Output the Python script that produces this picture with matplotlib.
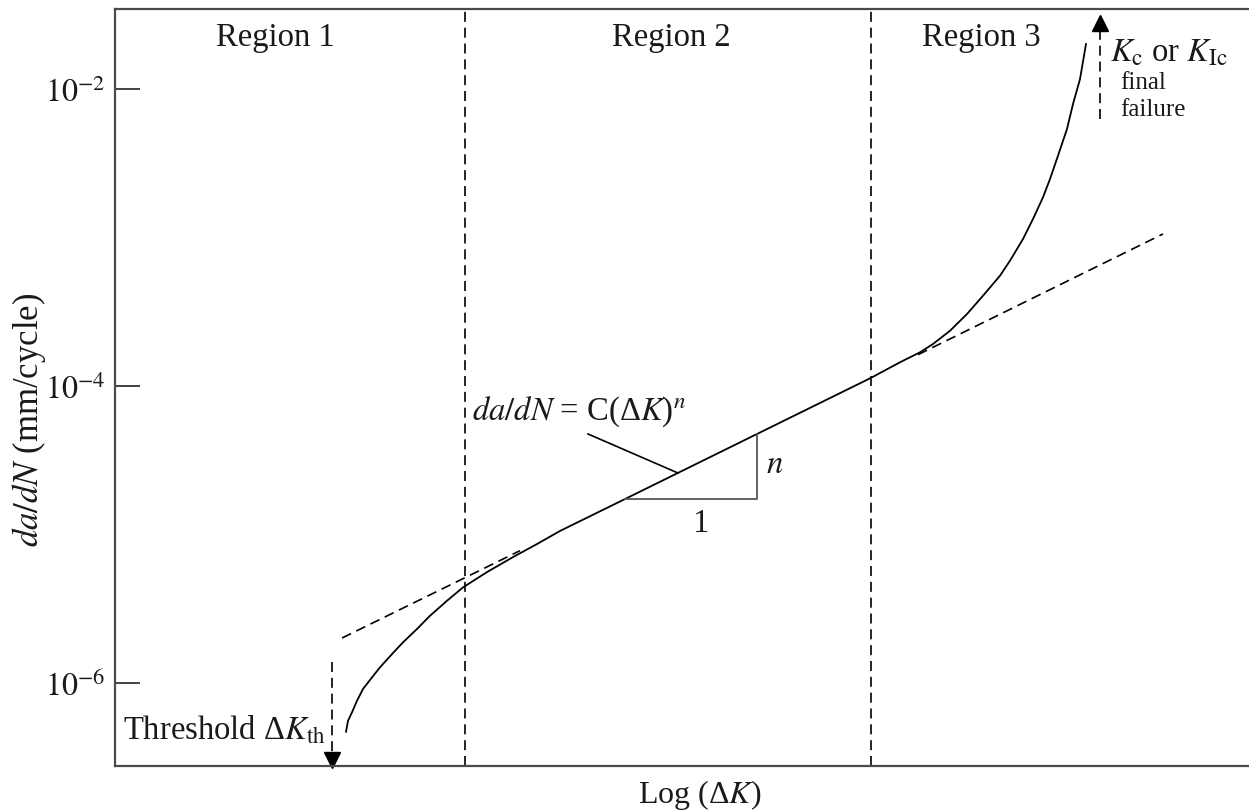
#!/usr/bin/env python3
"""Schematic fatigue crack growth curve: da/dN against log(dK), three regions."""

import matplotlib

matplotlib.use("Agg")
import matplotlib.pyplot as plt
import numpy as np

plt.rcParams["font.family"] = "serif"
plt.rcParams["font.serif"] = ["Liberation Serif", "DejaVu Serif"]
plt.rcParams["mathtext.fontset"] = "stix"

# x is log(dK) in arbitrary units, y is log10(da/dN)
CURVE_X = [2.31, 2.33, 2.37, 2.42, 2.48, 2.57, 2.65, 2.77, 2.88, 3.02, 3.15,
           3.32, 3.48, 3.72, 3.98, 4.22, 4.45, 5.10, 6.42, 7.56, 7.85, 8.05,
           8.18, 8.35, 8.52, 8.68, 8.85, 8.95, 9.08, 9.18, 9.28, 9.35, 9.43,
           9.52, 9.58, 9.65, 9.71]
CURVE_LOGY = [-6.330, -6.256, -6.199, -6.121, -6.042, -5.964, -5.896, -5.807,
              -5.728, -5.638, -5.549, -5.448, -5.358, -5.255, -5.154, -5.066,
              -4.978, -4.763, -4.325, -3.947, -3.842, -3.775, -3.719, -3.630,
              -3.517, -3.394, -3.259, -3.158, -3.012, -2.877, -2.731, -2.608,
              -2.451, -2.271, -2.103, -1.935, -1.699]

# Paris-law extensions (dashed)
LOWER_EXT_X = [2.27, 4.05]
LOWER_EXT_LOGY = [-5.699, -5.111]
UPPER_EXT_X = [8.03, 10.48]
UPPER_EXT_LOGY = [-3.791, -2.978]

REGION_BOUNDS = [3.50, 7.56]
REGION_LABELS = ["Region 1", "Region 2", "Region 3"]
REGION_LABEL_X = [1.60, 5.56, 8.66]

# slope triangle and leader line
TRI_X = [5.10, 6.42, 6.42]
TRI_LOGY = [-4.763, -4.763, -4.325]
LEADER_X = [4.73, 5.63]
LEADER_LOGY = [-4.325, -4.588]

# threshold and final failure arrows
THRESH_X = 2.17
THRESH_LOGY = [-5.861, -6.50]
FAIL_X = 9.85
FAIL_LOGY = [-2.204, -1.58]

YTICKS = [1e-2, 1e-4, 1e-6]
YTICK_LABELS = [r"$10^{-2}$", r"$10^{-4}$", r"$10^{-6}$"]

XLIM = (0.0, 11.34)
YLIM = (10 ** -6.561, 10 ** -1.463)

TXT = "#1a1a1a"
SPINE = "#4a4a4a"
DASH = (0, (6, 3.5))
FS = 23.5

fig = plt.figure(figsize=(12.49, 8.12), dpi=100)
ax = fig.add_axes([0.0921, 0.0554, 0.9079, 0.9323])

ax.set_yscale("log")
ax.set_xlim(*XLIM)
ax.set_ylim(*YLIM)

ax.plot(CURVE_X, 10 ** np.array(CURVE_LOGY), color="black", lw=1.3,
        solid_joinstyle="round")
ax.plot(LOWER_EXT_X, 10 ** np.array(LOWER_EXT_LOGY), color="black", lw=1.2, linestyle=DASH)
ax.plot(UPPER_EXT_X, 10 ** np.array(UPPER_EXT_LOGY), color="black", lw=1.2, linestyle=DASH)

for xb in REGION_BOUNDS:
    ax.axvline(xb, color="black", lw=1.2, linestyle=DASH)

label_y = 10 ** -1.65
for lx, text in zip(REGION_LABEL_X, REGION_LABELS):
    ax.text(lx, label_y, text, ha="center", va="center", fontsize=FS, color=TXT)

ax.plot(TRI_X, 10 ** np.array(TRI_LOGY), color="#555555", lw=1.3)
ax.plot(LEADER_X, 10 ** np.array(LEADER_LOGY), color="black", lw=1.2)
ax.text(3.57, 10 ** -4.224, r"$da/dN$ = C(Δ$K$)$^{n}$",
        ha="left", va="baseline", fontsize=FS, color=TXT)
ax.text(6.60, 10 ** -4.527, r"$n$", ha="center", va="center", fontsize=FS, color=TXT)
ax.text(5.85, 10 ** -4.925, "1", ha="center", va="center", fontsize=FS, color=TXT)

# threshold arrow
ax.plot([THRESH_X, THRESH_X], 10 ** np.array(THRESH_LOGY), color="black", lw=1.2,
        linestyle=DASH)
ax.plot([THRESH_X], [10 ** -6.521], marker="v", color="black", markersize=12,
        clip_on=False)
ax.text(0.08, 10 ** -6.379, r"Threshold Δ$K_{\mathrm{th}}$", ha="left",
        va="baseline", fontsize=FS, color=TXT)

# final failure arrow
ax.plot([FAIL_X, FAIL_X], 10 ** np.array(FAIL_LOGY), color="black", lw=1.2,
        linestyle=DASH)
ax.plot([FAIL_X], [10 ** -1.555], marker="^", color="black", markersize=12,
        clip_on=False)
ax.text(9.95, 10 ** -1.813, r"$K_{\mathrm{c}}$ or $K_{\mathrm{Ic}}$", ha="left",
        va="baseline", fontsize=FS, color=TXT)
ax.text(10.05, 10 ** -1.995, "final", ha="left", va="baseline", fontsize=18, color=TXT)
ax.text(10.05, 10 ** -2.177, "failure", ha="left", va="baseline", fontsize=18, color=TXT)

ax.set_yticks(YTICKS, labels=YTICK_LABELS)
ax.yaxis.set_minor_locator(matplotlib.ticker.NullLocator())
ax.set_xticks([])
ax.tick_params(axis="y", direction="in", length=18, width=1.3, color="#333333",
               pad=7, labelsize=23, labelcolor=TXT)

for side in ["left", "top", "bottom"]:
    ax.spines[side].set_color(SPINE)
    ax.spines[side].set_linewidth(1.6)
ax.spines["right"].set_visible(False)

fig.text(0.0230, 0.483, r"$da/dN$ (mm/cycle)", rotation=90, ha="center", va="center",
         fontsize=25, color=TXT)
fig.text(0.5604, 0.0209, r"Log (Δ$K$)", ha="center", va="center", fontsize=23,
         color=TXT)

fig.savefig("out.png", dpi=100)
